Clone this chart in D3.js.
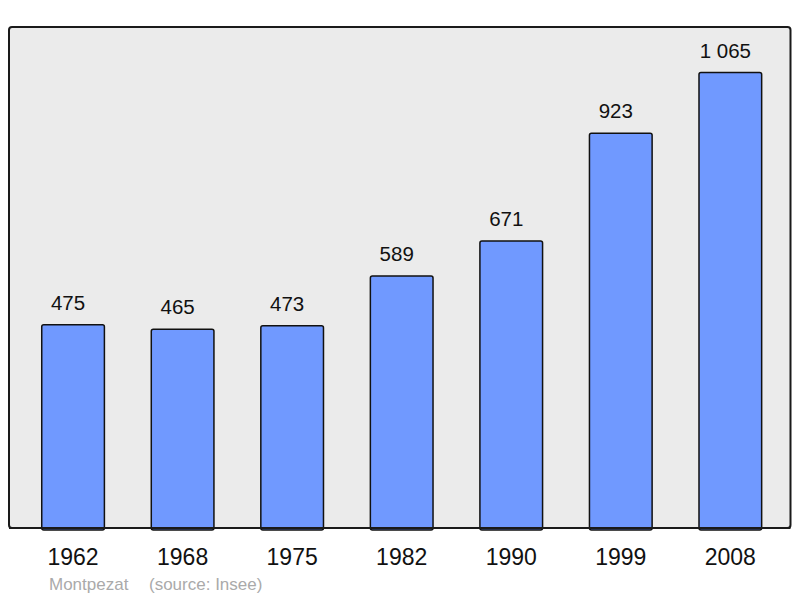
<!DOCTYPE html>
<html><head><meta charset="utf-8">
<script src="https://cdn.jsdelivr.net/npm/d3@7"></script>
<style>body{margin:0;background:#fff}</style>
</head><body>
<script>
const years = ["1962","1968","1975","1982","1990","1999","2008"];
const population = [475,465,473,589,671,923,1065];
const labels = ["475","465","473","589","671","923","1 065"];
const town = "Montpezat";
const source = "(source: Insee)";

const W = 800, H = 598;
const svg = d3.select("body").append("svg").attr("width", W).attr("height", H)
  .style("font-family", "'Liberation Sans', Arial, sans-serif");

const frame = {x0: 9, x1: 790.5, y0: 27, y1: 528};
const y = d3.scaleLinear().domain([0, d3.max(population) * 1.1]).range([frame.y1, frame.y0]);
const x = d3.scaleBand().domain(years).range([18.3, 785.1]).paddingInner(0.428).paddingOuter(0.214);

svg.append("rect").attr("x", frame.x0).attr("y", frame.y0)
  .attr("width", frame.x1 - frame.x0).attr("height", frame.y1 - frame.y0)
  .attr("rx", 3).attr("fill", "#ebebeb").attr("stroke", "#1a1a1a").attr("stroke-width", 2);

const g = svg.append("g");
g.selectAll("rect.bar").data(population).join("rect").attr("class", "bar")
  .attr("x", (d, i) => x(years[i])).attr("width", x.bandwidth())
  .attr("y", d => y(d)).attr("height", d => frame.y1 - y(d) + 2)
  .attr("rx", 2).attr("fill", "#7099ff").attr("stroke", "#111").attr("stroke-width", 1.5);

svg.append("line").attr("x1", frame.x0).attr("x2", frame.x1).attr("y1", frame.y1).attr("y2", frame.y1)
  .attr("stroke", "#1a1a1a").attr("stroke-width", 2);

g.selectAll("text.val").data(population).join("text").attr("class", "val")
  .attr("x", (d, i) => x(years[i]) + x.bandwidth() / 2 - 5)
  .attr("y", d => y(d) - 15)
  .attr("text-anchor", "middle").attr("font-size", 20.5).attr("fill", "#111")
  .text((d, i) => labels[i]);

const xAxis = d3.axisBottom(x).tickSize(0).tickPadding(0);
const ax = svg.append("g").attr("transform", `translate(0,${frame.y1})`).call(xAxis);
ax.select(".domain").remove();
ax.selectAll("text").attr("font-size", 23).attr("fill", "#111")
  .attr("font-family", "'Liberation Sans', Arial, sans-serif")
  .attr("dy", null).attr("y", 37);

svg.append("text").attr("x", 49).attr("y", 590).attr("font-size", 17).attr("fill", "#aaaaaa").text(town);
svg.append("text").attr("x", 149).attr("y", 590).attr("font-size", 17).attr("fill", "#aaaaaa").text(source);
</script>
</body></html>
